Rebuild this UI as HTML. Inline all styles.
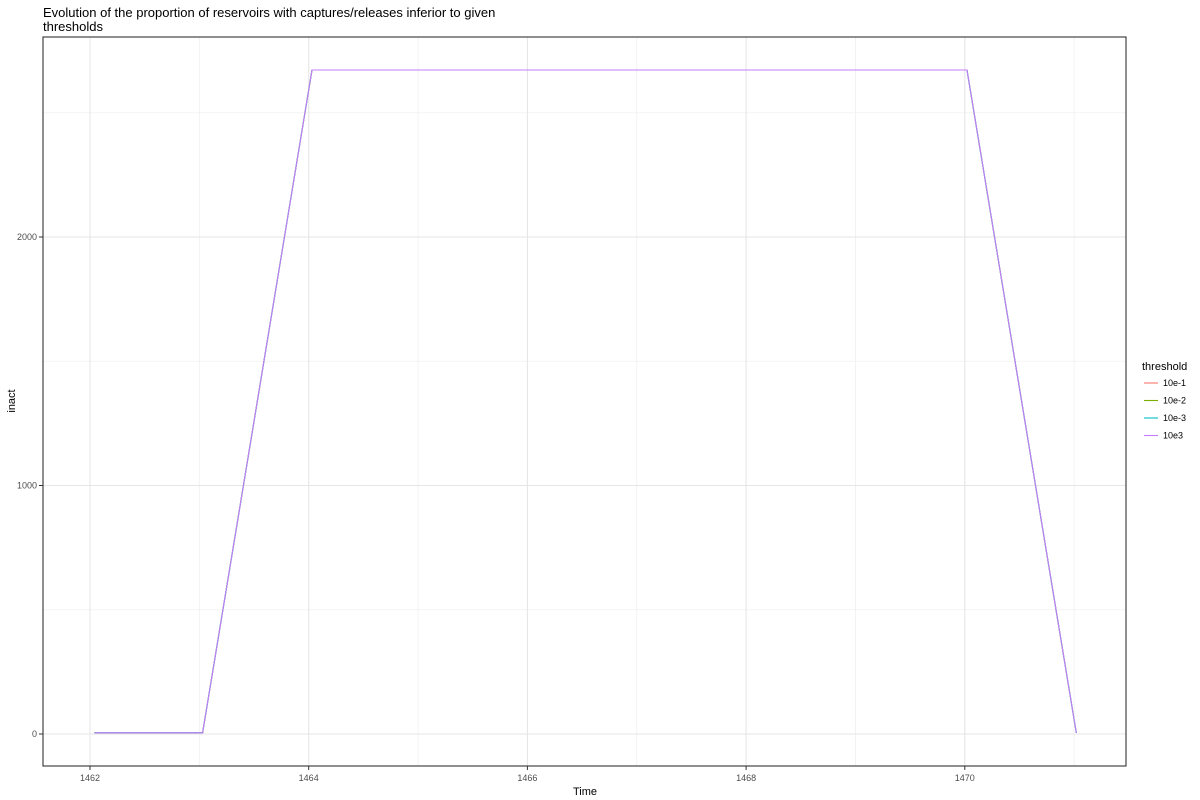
<!DOCTYPE html>
<html><head><meta charset="utf-8"><style>
html,body{margin:0;padding:0;background:#fff}
svg{display:block;font-family:"Liberation Sans",Arial,sans-serif}
</style></head><body>
<svg id="chart" width="1200" height="800">
<text x="43" y="17" font-size="13" fill="#000">Evolution of the proportion of reservoirs with captures/releases inferior to given</text>
<text x="43" y="31" font-size="13" fill="#000">thresholds</text>
<g id="grid"></g>
<g id="series"></g>
<rect x="43" y="37" width="1083" height="729" fill="none" stroke="#333" stroke-width="1.1"/>
<g id="axes"></g>
<text x="585" y="795" font-size="11" text-anchor="middle">Time</text>
<text transform="translate(15,401) rotate(-90)" font-size="11" text-anchor="middle">inact</text>
<g id="legend">
<text x="1142" y="370" font-size="11">threshold</text>
</g>
</svg>
<script>
const times = [1462.04, 1463.03, 1464.03, 1465.03, 1466.03, 1467.03, 1468.03, 1469.03, 1470.02, 1471.02];
const seriesNames = ["10e-1", "10e-2", "10e-3", "10e3"];
const seriesColors = ["#F8766D", "#7CAE00", "#00BFC4", "#C77CFF"];
const v10e1 = [5, 5, 2672, 2672, 2672, 2672, 2672, 2672, 2672, 5];
const v10e2 = [5, 5, 2672, 2672, 2672, 2672, 2672, 2672, 2672, 5];
const v10e3n = [5, 5, 2672, 2672, 2672, 2672, 2672, 2672, 2672, 5];
const v10e3 = [5, 5, 2672, 2672, 2672, 2672, 2672, 2672, 2672, 5];
const xTicks = [1462, 1464, 1466, 1468, 1470];
const xMinor = [1463, 1465, 1467, 1469, 1471];
const yTicks = [0, 1000, 2000];
const yMinor = [500, 1500, 2500];

const NS = "http://www.w3.org/2000/svg";
const xs = v => 90 + (v - 1462) * 109.35;
const ys = v => 734 - v * 0.2485;
function mk(tag, attrs, parent){const e=document.createElementNS(NS,tag);for(const k in attrs)e.setAttribute(k,attrs[k]);parent.appendChild(e);return e;}
const grid=document.getElementById("grid"), axes=document.getElementById("axes"), ser=document.getElementById("series"), leg=document.getElementById("legend");
xMinor.forEach(t=>{const l=mk("line",{x1:xs(t),x2:xs(t),y1:37,y2:766,stroke:"#f0f0f0","stroke-width":0.8},grid);

});
yMinor.forEach(t=>{const l=mk("line",{x1:43,x2:1126,y1:ys(t),y2:ys(t),stroke:"#f0f0f0","stroke-width":0.8},grid);

});
xTicks.forEach(t=>{const l=mk("line",{x1:xs(t),x2:xs(t),y1:37,y2:766,stroke:"#e6e6e6","stroke-width":1.1},grid);


const tk=mk("line",{x1:xs(t),x2:xs(t),y1:766,y2:770,stroke:"#333"},axes);


const tx=mk("text",{x:xs(t),y:781,"font-size":9,"text-anchor":"middle",fill:"#4d4d4d"},axes);tx.textContent=t;

});
yTicks.forEach(t=>{const l=mk("line",{x1:43,x2:1126,y1:ys(t),y2:ys(t),stroke:"#e6e6e6","stroke-width":1.1},grid);


const tk=mk("line",{x1:39,x2:43,y1:ys(t),y2:ys(t),stroke:"#333"},axes);


const tx=mk("text",{x:37,y:ys(t)+3,"font-size":9,"text-anchor":"end",fill:"#4d4d4d"},axes);tx.textContent=t;

});
const allVals=[v10e1,v10e2,v10e3n,v10e3];
allVals.forEach((vals,i)=>{
 const d=vals.map((v,j)=>(j?"L":"M")+xs(times[j]).toFixed(1)+","+ys(v).toFixed(1)).join("");
 const p=mk("path",{d:d,fill:"none",stroke:seriesColors[i],"stroke-width":1.1},ser);
 
 
 const y=383+i*17.5;
 const ll=mk("line",{x1:1144,x2:1158,y1:y,y2:y,stroke:seriesColors[i],"stroke-width":1.1},leg);
 
 
 const lt=mk("text",{x:1163,y:y+3,"font-size":9,fill:"#000"},leg);lt.textContent=seriesNames[i];
 
 
});
</script>
</body></html>
